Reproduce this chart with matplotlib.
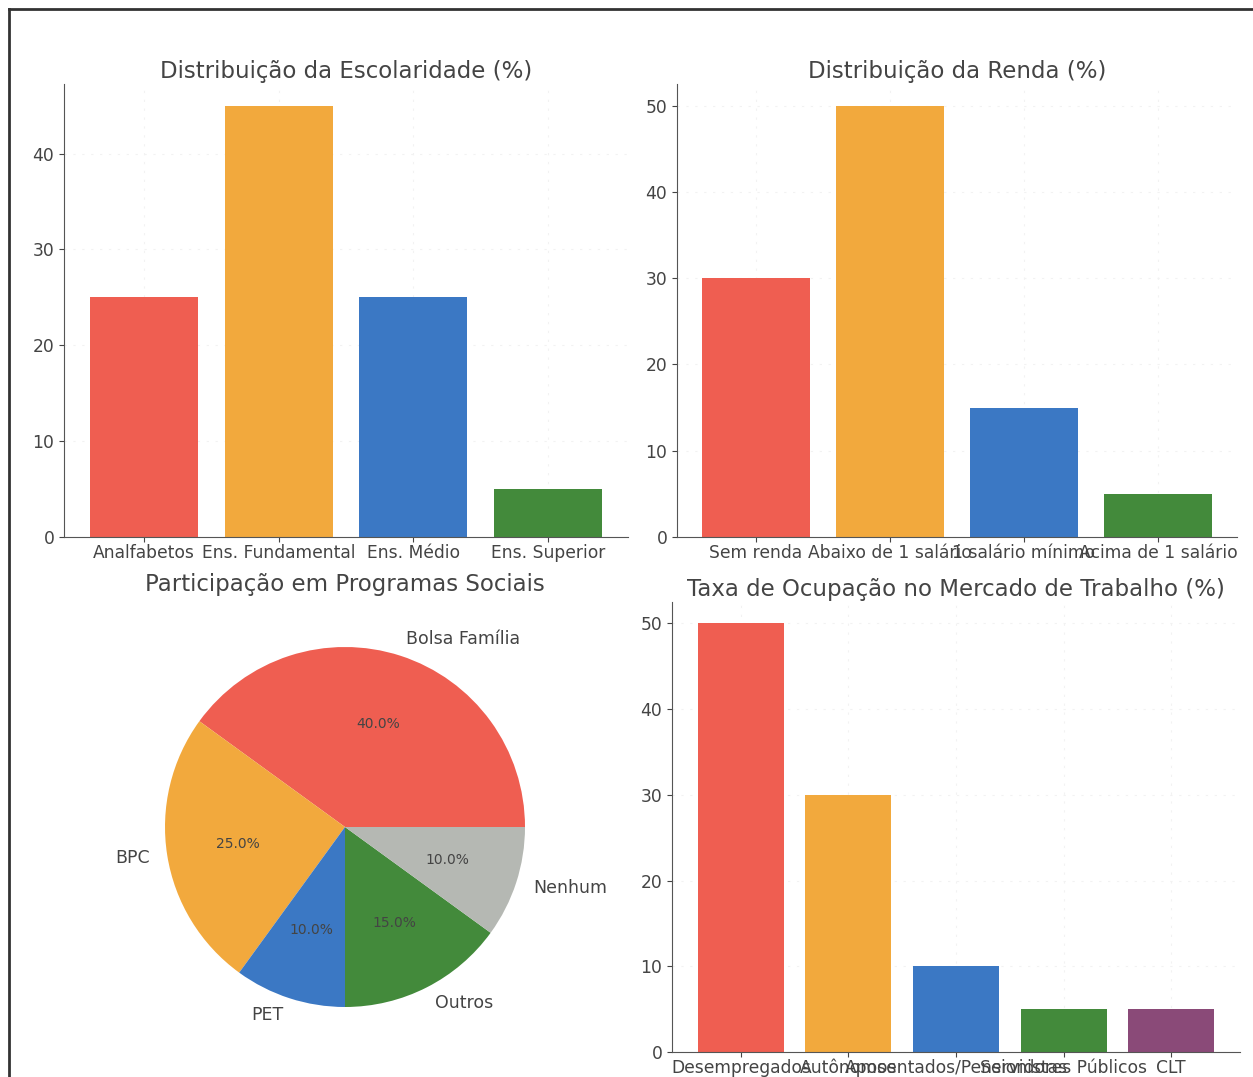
import matplotlib
matplotlib.use("Agg")
import matplotlib.pyplot as plt
from matplotlib.lines import Line2D

# Data
esc_labels = ["Analfabetos", "Ens. Fundamental", "Ens. Médio", "Ens. Superior"]
esc_values = [25, 45, 25, 5]

renda_labels = ["Sem renda", "Abaixo de 1 salário", "1 salário mínimo", "Acima de 1 salário"]
renda_values = [30, 50, 15, 5]

prog_labels = ["Bolsa Família", "BPC", "PET", "Outros", "Nenhum"]
prog_values = [40, 25, 10, 15, 10]

ocup_labels = ["Desempregados", "Autônomos", "Aposentados/Pensionistas", "Servidores Públicos", "CLT"]
ocup_values = [50, 30, 10, 5, 5]

RED = "#ef5e51"
ORANGE = "#f2a93d"
BLUE = "#3b78c4"
GREEN = "#438a3b"
GRAY = "#b5b8b3"
PURPLE = "#8a4a78"
TXT = "#444444"

plt.rcParams["font.family"] = ["DejaVu Sans"]
plt.rcParams["text.color"] = TXT
plt.rcParams["xtick.color"] = TXT
plt.rcParams["ytick.color"] = TXT
plt.rcParams["axes.edgecolor"] = "#555555"

W, H = 1253, 1077
fig = plt.figure(figsize=(W / 100, H / 100), dpi=100)

TITLE_FS = 16.5


def box(x0, y0, x1, y1):
    return [x0 / W, 1 - y1 / H, (x1 - x0) / W, (y1 - y0) / H]


def style(ax):
    ax.spines["top"].set_visible(False)
    ax.spines["right"].set_visible(False)
    ax.grid(True, color="#f2f2f2", linestyle=(0, (2, 6)), linewidth=0.8)
    ax.set_axisbelow(True)
    ax.tick_params(labelsize=12.3)
    ax.tick_params(axis="x", pad=1.5)


ax1 = fig.add_axes(box(64, 84, 628, 537))
ax1.bar(esc_labels, esc_values, color=[RED, ORANGE, BLUE, GREEN], width=0.8)
ax1.set_title("Distribuição da Escolaridade (%)", fontsize=TITLE_FS, color=TXT, pad=4)
style(ax1)

ax2 = fig.add_axes(box(677, 84, 1237, 537))
ax2.bar(renda_labels, renda_values, color=[RED, ORANGE, BLUE, GREEN], width=0.8)
ax2.set_title("Distribuição da Renda (%)", fontsize=TITLE_FS, color=TXT, pad=4)
style(ax2)

ax3 = fig.add_axes(box(120, 602, 570, 1052))
ax3.pie(prog_values, labels=prog_labels, colors=[RED, ORANGE, BLUE, GREEN, GRAY],
        autopct="%1.1f%%", startangle=0,
        textprops={"color": TXT, "fontsize": 12.5})
for t in ax3.texts:
    if t.get_text().endswith("%"):
        t.set_fontsize(10)
ax3.set_aspect("equal")
fig.text(345 / W, 1 - 585 / H, "Participação em Programas Sociais", fontsize=TITLE_FS,
         color=TXT, ha="center", va="center")

ax4 = fig.add_axes(box(672, 602, 1240, 1052))
ax4.bar(ocup_labels, ocup_values, color=[RED, ORANGE, BLUE, GREEN, PURPLE], width=0.8)
ax4.set_title("Taxa de Ocupação no Mercado de Trabalho (%)", fontsize=TITLE_FS, color=TXT, pad=4)
style(ax4)

# scanned frame lines
fig.add_artist(Line2D([9 / W, 9 / W], [0, 1 - 9 / H], color="#333333", linewidth=2,
                      transform=fig.transFigure))
fig.add_artist(Line2D([9 / W, 1], [1 - 9 / H, 1 - 9 / H], color="#333333", linewidth=2,
                      transform=fig.transFigure))

fig.savefig("out.png", dpi=100)
